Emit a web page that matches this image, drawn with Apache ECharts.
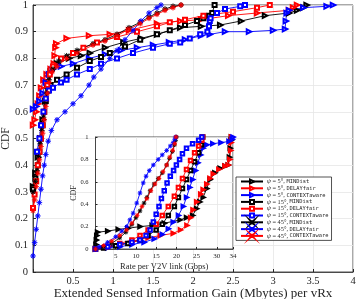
<!DOCTYPE html>
<html><head><meta charset="utf-8">
<script src="https://cdn.jsdelivr.net/npm/echarts@6/dist/echarts.min.js"></script>
<style>html,body{margin:0;padding:0;background:#fff}#c{width:357px;height:299px}</style>
</head><body><div id="c"></div>
<script>
// ---- Legend / series names ----
const names = [
  'ψ = 5°, MINDist', 'ψ = 5°, DELAYfair', 'ψ = 5°, CONTEXTaware',
  'ψ = 15°, MINDist', 'ψ = 15°, DELAYfair', 'ψ = 15°, CONTEXTaware',
  'ψ = 45°, MINDist', 'ψ = 45°, DELAYfair', 'ψ = 45°, CONTEXTaware'
];
// ---- Main plot: [info gain (Mbytes), CDF] ----
const main_5_MIN = [[0,0.32],[0.03,0.37],[0.06,0.43],[0.09,0.5],[0.12,0.57],[0.15,0.64],[0.18,0.7],[0.22,0.75],[0.3,0.78],[0.45,0.8],[0.6,0.81],[0.71,0.82],[0.9,0.84],[1.13,0.86],[1.35,0.875],[1.55,0.89],[1.84,0.915],[2.1,0.92],[2.34,0.925],[2.6,0.94],[2.9,0.96],[3.2,0.97],[3.3,0.98],[3.38,0.99],[3.42,1.0]];
const main_5_DEL = [[0,0.55],[0.02,0.57],[0.04,0.6],[0.06,0.63],[0.08,0.66],[0.1,0.69],[0.13,0.72],[0.17,0.74],[0.22,0.76],[0.26,0.78],[0.27,0.81],[0.28,0.84],[0.29,0.855],[0.42,0.875],[0.7,0.885],[0.96,0.89],[1.2,0.905],[1.55,0.93],[1.84,0.94],[2.1,0.945],[2.44,0.96],[2.8,0.97],[3.2,0.98],[3.25,0.99],[3.3,1.0]];
const main_5_CTX = [[0,0.61],[0.04,0.62],[0.08,0.64],[0.12,0.67],[0.16,0.71],[0.2,0.74],[0.25,0.76],[0.35,0.77],[0.5,0.78],[0.7,0.8],[0.9,0.815],[1.1,0.83],[1.3,0.84],[1.5,0.85],[1.7,0.86],[1.9,0.87],[2.1,0.885],[2.21,0.89],[2.4,0.9],[2.7,0.9],[3.0,0.905],[3.15,0.91],[3.16,0.94],[3.17,0.97],[3.2,0.98],[3.38,0.99],[3.67,0.995],[3.75,1.0]];
const main_15_MIN = [[0,0.31],[0.03,0.35],[0.06,0.4],[0.08,0.45],[0.1,0.5],[0.12,0.55],[0.14,0.6],[0.16,0.64],[0.19,0.68],[0.22,0.7],[0.3,0.72],[0.42,0.74],[0.55,0.765],[0.71,0.79],[0.85,0.805],[0.96,0.82],[1.15,0.845],[1.34,0.87],[1.55,0.89],[1.71,0.905],[1.9,0.925],[2.05,0.94],[2.13,0.95],[2.2,0.96],[2.24,0.97],[2.27,1.0]];
const main_15_DEL = [[0,0.24],[0.02,0.29],[0.04,0.34],[0.06,0.4],[0.08,0.45],[0.1,0.5],[0.12,0.55],[0.14,0.6],[0.16,0.65],[0.18,0.7],[0.21,0.74],[0.25,0.77],[0.35,0.8],[0.5,0.82],[0.63,0.84],[0.8,0.86],[1.05,0.88],[1.3,0.9],[1.55,0.92],[1.71,0.935],[1.9,0.945],[2.13,0.96],[2.5,0.975],[2.8,0.99],[2.96,1.0]];
const main_15_CTX = [[0.05,0.45],[0.08,0.5],[0.1,0.55],[0.13,0.6],[0.16,0.65],[0.2,0.68],[0.25,0.69],[0.35,0.71],[0.42,0.72],[0.55,0.74],[0.71,0.76],[0.85,0.78],[1.05,0.8],[1.25,0.82],[1.5,0.84],[1.71,0.855],[1.84,0.86],[1.96,0.875],[2.09,0.89],[2.18,0.9],[2.2,0.92],[2.21,0.94],[2.22,0.95],[2.3,0.97],[2.4,0.985],[2.59,0.995],[2.65,1.0]];
const main_45_MIN = [[0,0.3],[0.03,0.34],[0.05,0.38],[0.07,0.43],[0.09,0.48],[0.11,0.53],[0.13,0.58],[0.15,0.63],[0.17,0.67],[0.2,0.72],[0.25,0.76],[0.32,0.79],[0.42,0.81],[0.55,0.83],[0.75,0.855],[0.9,0.87],[1.05,0.89],[1.2,0.915],[1.34,0.935],[1.45,0.955],[1.55,0.97],[1.65,0.985],[1.75,0.995],[1.85,1.0]];
const main_45_DEL = [[0,0.06],[0.02,0.11],[0.04,0.16],[0.06,0.21],[0.08,0.26],[0.1,0.31],[0.12,0.36],[0.14,0.4],[0.16,0.44],[0.19,0.49],[0.23,0.53],[0.3,0.57],[0.4,0.6],[0.5,0.63],[0.6,0.66],[0.7,0.7],[0.76,0.73],[0.85,0.76],[0.96,0.8],[1.05,0.83],[1.15,0.87],[1.25,0.905],[1.35,0.94],[1.45,0.97],[1.55,0.99],[1.6,1.0]];
const main_45_CTX = [[0,0.23],[0.02,0.27],[0.04,0.32],[0.06,0.37],[0.08,0.42],[0.1,0.47],[0.12,0.52],[0.14,0.57],[0.16,0.62],[0.18,0.67],[0.2,0.71],[0.24,0.75],[0.3,0.77],[0.42,0.8],[0.55,0.82],[0.75,0.85],[0.9,0.865],[1.05,0.885],[1.2,0.91],[1.34,0.93],[1.45,0.95],[1.55,0.965],[1.65,0.98],[1.75,0.99],[1.85,1.0]];
// ---- Inset: [rate per V2V link (Gbps), CDF] ----
const inset_5_MIN = [[0,0],[0.1,0.04],[0.2,0.08],[0.3,0.12],[0.5,0.15],[3,0.16],[5.6,0.175],[8,0.185],[11,0.2],[14,0.21],[17,0.23],[20.9,0.26],[22.5,0.28],[24,0.3],[25,0.36],[25.8,0.42],[26.6,0.46],[27.5,0.54],[28.3,0.62],[29.5,0.68],[30.8,0.72],[32,0.74],[32.8,0.75],[33.1,0.82],[33.3,0.9],[33.5,0.97],[33.6,1.0]];
const inset_5_DEL = [[0,0],[3,0.02],[6,0.04],[9.3,0.07],[13,0.1],[16,0.12],[19.2,0.14],[21,0.17],[22.6,0.21],[23.5,0.28],[24.1,0.35],[25,0.42],[26,0.49],[26.6,0.53],[27.5,0.58],[28.3,0.63],[29.1,0.67],[30.5,0.71],[32,0.74],[32.8,0.75],[33.2,0.8],[33.4,0.88],[33.5,0.95],[33.6,1.0]];
const inset_5_CTX = [[0,0],[3,0.01],[6,0.02],[9,0.04],[12,0.06],[14.5,0.09],[16.5,0.13],[18,0.18],[19.2,0.24],[20.5,0.3],[21.7,0.38],[22.5,0.46],[23.3,0.55],[24,0.62],[24.7,0.7],[25.3,0.77],[26,0.84],[26.6,0.9],[27.5,0.93],[29,0.94],[31,0.95],[33,0.96],[33.8,0.98],[34,1.0]];
const inset_15_MIN = [[0,0],[2,0.01],[5,0.03],[8,0.05],[11,0.08],[13,0.12],[15,0.17],[16.5,0.22],[18,0.3],[19.5,0.38],[20.5,0.46],[21.5,0.54],[22.5,0.62],[23.5,0.7],[24.5,0.78],[25.5,0.86],[26.2,0.93],[26.5,1.0]];
const inset_15_DEL = [[0,0],[3,0.02],[6,0.05],[9,0.08],[11,0.12],[13,0.17],[15,0.22],[16.5,0.3],[18,0.38],[19.5,0.47],[20.5,0.55],[21.5,0.63],[22.5,0.71],[23.5,0.79],[24.5,0.86],[25.5,0.92],[26.3,0.97],[26.5,1.0]];
const inset_15_CTX = [[0,0],[3,0.02],[6,0.04],[9,0.06],[11,0.08],[12.5,0.12],[13.5,0.17],[14.3,0.24],[15,0.31],[15.7,0.38],[16.3,0.45],[17,0.52],[17.7,0.59],[18.5,0.65],[19.3,0.7],[20,0.75],[20.8,0.8],[21.5,0.85],[22.5,0.9],[24,0.94],[25.5,0.97],[26.3,1.0]];
const inset_45_MIN = [[0,0],[2,0.02],[4,0.05],[6,0.1],[7.5,0.15],[9,0.22],[10,0.28],[11,0.34],[12,0.41],[12.7,0.46],[13.5,0.52],[14.5,0.58],[15.5,0.63],[16.5,0.68],[17.6,0.75],[18.3,0.81],[19,0.87],[19.5,0.93],[19.8,0.97],[20,1.0]];
const inset_45_DEL = [[0,0],[1,0.02],[3,0.06],[5,0.11],[6.5,0.16],[7.7,0.2],[8.5,0.26],[9.3,0.32],[10.2,0.41],[11,0.5],[11.8,0.59],[12.5,0.65],[13.3,0.7],[14.3,0.75],[15.5,0.8],[16.5,0.84],[17.6,0.88],[18.5,0.92],[19.2,0.95],[19.6,0.98],[19.8,1.0]];
const inset_45_CTX = [[0,0],[2,0.03],[4,0.07],[6,0.12],[7.7,0.17],[9,0.23],[10.3,0.3],[11.5,0.38],[12.7,0.45],[13.7,0.52],[14.7,0.58],[15.7,0.63],[16.7,0.69],[17.6,0.75],[18.4,0.82],[19.1,0.88],[19.6,0.94],[19.9,1.0]];

const mainData = [main_5_MIN, main_5_DEL, main_5_CTX, main_15_MIN, main_15_DEL, main_15_CTX, main_45_MIN, main_45_DEL, main_45_CTX];
const insetData = [inset_5_MIN, inset_5_DEL, inset_5_CTX, inset_15_MIN, inset_15_DEL, inset_15_CTX, inset_45_MIN, inset_45_DEL, inset_45_CTX];
const colors = ['#000000','#ff0000','#0000ff','#000000','#ff0000','#0000ff','#000000','#0000ff','#ff0000'];
const ASTER = 'path://M10,0 L2,0.8 L7.07,7.07 L0.8,2 L0,10 L-0.8,2 L-7.07,7.07 L-2,0.8 L-10,0 L-2,-0.8 L-7.07,-7.07 L-0.8,-2 L0,-10 L0.8,-2 L7.07,-7.07 L2,-0.8 Z';
const symbols = ['emptyTriangle','emptyTriangle','emptyTriangle','emptyRect','emptyRect','emptyRect',ASTER,ASTER,ASTER];
const rotates = [-90,-90,-90,0,0,0,0,0,0];

const SERIF = '"Liberation Serif","DejaVu Serif",serif';
const MONO = '"DejaVu Sans Mono","Liberation Mono",monospace';
const AX = '#262626';
const GRIDC = '#e6e6e6';

const series = [];
for (let i = 0; i < 9; i++) {
  const isAst = symbols[i] === ASTER;
  series.push({
    name: names[i], type: 'line', xAxisIndex: 0, yAxisIndex: 0, data: mainData[i],
    symbol: symbols[i], symbolRotate: rotates[i], symbolSize: isAst ? 5.5 : (i < 3 ? 4.5 : 4),
    showAllSymbol: true, animation: false, z: 2,
    lineStyle: { color: colors[i], width: 0.9 },
    itemStyle: { color: colors[i], borderColor: colors[i], borderWidth: 0.6 }
  });
}
for (let i = 0; i < 9; i++) {
  const isAst = symbols[i] === ASTER;
  series.push({
    name: names[i], type: 'line', xAxisIndex: 1, yAxisIndex: 1, data: insetData[i],
    symbol: symbols[i], symbolRotate: rotates[i], symbolSize: isAst ? 4.5 : 3.5,
    showAllSymbol: true, animation: false, z: 6,
    lineStyle: { color: colors[i], width: 0.9 },
    itemStyle: { color: colors[i], borderColor: colors[i], borderWidth: 0.6 }
  });
}

const chart = echarts.init(document.getElementById('c'), null, { renderer: 'canvas' });
chart.setOption({
  backgroundColor: '#fff',
  animation: false,
  grid: [
    { left: 33, right: 4, top: 5, bottom: 27, containLabel: false, outerBoundsMode: 'none', show: true, borderColor: AX, borderWidth: 0.8, backgroundColor: 'transparent', z: 0 },
    { left: 95.5, right: 124, top: 137, bottom: 50, containLabel: false, outerBoundsMode: 'none', show: true, borderColor: AX, borderWidth: 0.8, backgroundColor: '#fff', z: 4 }
  ],
  xAxis: [
    { type: 'value', gridIndex: 0, min: 0, max: 4, interval: 0.5,
      axisLine: { lineStyle: { color: AX, width: 0.8 } },
      axisTick: { inside: true, length: 3, lineStyle: { color: AX } },
      axisLabel: { fontFamily: SERIF, fontSize: 10.5, color: AX, margin: 4, formatter: v => v === 0 ? '' : String(v) },
      splitLine: { lineStyle: { color: GRIDC, width: 0.8 } },
      name: 'Extended Sensed Information Gain (Mbytes) per vRx', nameLocation: 'middle', nameGap: 15, nameMoveOverlap: false,
      nameTextStyle: { fontFamily: SERIF, fontSize: 13, color: AX } },
    { type: 'value', gridIndex: 1, min: 0, max: 34, interval: 5, z: 5,
      axisLine: { lineStyle: { color: AX, width: 0.8 } },
      axisTick: { inside: true, length: 2, lineStyle: { color: AX } },
      axisLabel: { fontFamily: SERIF, fontSize: 7, color: AX, margin: 4, formatter: v => v === 0 ? '' : String(v) },
      splitLine: { lineStyle: { color: GRIDC, width: 0.8 } },
      name: 'Rate per V2V link (Gbps)', nameLocation: 'middle', nameGap: 13, nameMoveOverlap: false,
      nameTextStyle: { fontFamily: SERIF, fontSize: 8.5, color: AX } }
  ],
  yAxis: [
    { type: 'value', gridIndex: 0, min: 0, max: 1, interval: 0.1,
      axisLine: { lineStyle: { color: AX, width: 0.8 } },
      axisTick: { inside: true, length: 3, lineStyle: { color: AX } },
      axisLabel: { fontFamily: SERIF, fontSize: 10.5, color: AX, margin: 5 },
      splitLine: { lineStyle: { color: GRIDC, width: 0.8 } },
      name: 'CDF', nameLocation: 'middle', nameGap: 21, nameMoveOverlap: false,
      nameTextStyle: { fontFamily: SERIF, fontSize: 11.5, color: AX } },
    { type: 'value', gridIndex: 1, min: 0, max: 1, interval: 0.2, z: 5,
      axisLine: { lineStyle: { color: AX, width: 0.8 } },
      axisTick: { inside: true, length: 2, lineStyle: { color: AX } },
      axisLabel: { fontFamily: SERIF, fontSize: 6.5, color: AX, margin: 7 },
      splitLine: { lineStyle: { color: GRIDC, width: 0.8 } },
      name: 'CDF', nameLocation: 'middle', nameGap: 18, nameMoveOverlap: false,
      nameTextStyle: { fontFamily: SERIF, fontSize: 8, color: AX } }
  ],
  legend: {
    data: names, orient: 'vertical', left: 236, top: 177,
    backgroundColor: '#fff', borderColor: AX, borderWidth: 0.8,
    padding: [1.5, 3, 1.5, 4], itemWidth: 22, itemHeight: 5, itemGap: 0.8, z: 20,
    formatter: function (n) {
      const m = n.match(/^ψ( = \d+°, )(.*)$/);
      return '{p|ψ}{s|' + m[1] + '}{m|' + m[2] + '}';
    },
    textStyle: { fontSize: 6, lineHeight: 6, color: AX, padding: [0, 0, 0, -1],
      rich: {
        p: { fontFamily: SERIF, fontStyle: 'italic', fontSize: 6.3, lineHeight: 6, color: AX },
        s: { fontFamily: SERIF, fontSize: 6.3, lineHeight: 6, color: AX },
        m: { fontFamily: MONO, fontSize: 5.4, lineHeight: 6, color: AX }
      }
    }
  },
  series: series
});
</script>
</body></html>
